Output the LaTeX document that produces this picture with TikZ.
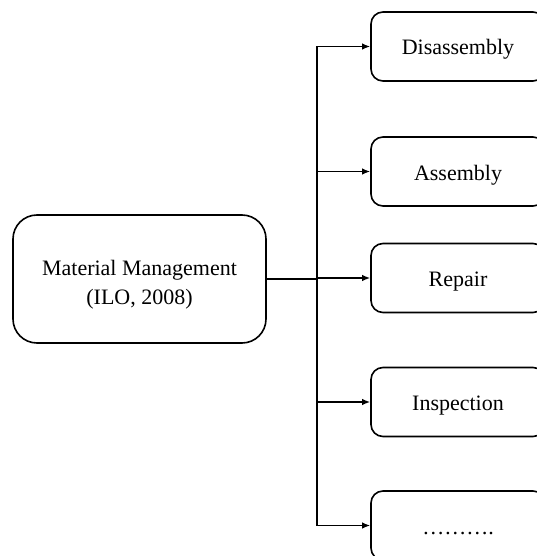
\documentclass[tikz,border=0pt]{standalone}
\usepackage{fontspec}
\setmainfont{Liberation Serif}
\usetikzlibrary{arrows.meta}
\begin{document}
\begin{tikzpicture}[x=1pt,y=-1pt,
  box/.style={draw,line width=1.6pt,rounded corners=12pt,
    minimum width=174pt,minimum height=69pt,inner sep=0pt,
    text height=17pt,text depth=0pt,
    font=\fontsize{22}{28}\selectfont},
  mainbox/.style={draw,line width=1.6pt,rounded corners=24pt,
    minimum width=253pt,minimum height=128pt,inner sep=0pt,align=center,
    text height=50pt,text depth=0pt,
    font=\fontsize{22}{29}\selectfont},
  link/.style={line width=1.5pt},
  arr/.style={line width=1.5pt,-{Latex[length=8pt,width=6.5pt]}}]
  \clip (0,0) rectangle (537,556);
  % source box
  \node[mainbox] (main) at (139.5,279) {Material Management\\(ILO, 2008)};
  % activity boxes
  \node[box] (dis) at (458,46.5) {Disassembly};
  \node[box] (asm) at (458,171.5) {Assembly};
  \node[box] (rep) at (458,278) {Repair};
  \node[box] (ins) at (458,402) {Inspection};
  \node[box] (etc) at (458,525.5) {……….};
  % vertical bus
  \coordinate (bus) at (317,0);
  \coordinate (bustop) at (bus |- dis.west);
  \coordinate (busbot) at (bus |- etc.west);
  \draw[link] (bustop) -- (busbot);
  \draw[line width=2.2pt] (main.east) -- (bus |- main.east);
  % branches
  \draw[arr] (bustop) -- (dis.west);
  \draw[arr] (bus |- asm.west) -- (asm.west);
  \draw[arr] (bus |- rep.west) -- (rep.west);
  \draw[arr] (bus |- ins.west) -- (ins.west);
  \draw[arr] (busbot) -- (etc.west);
\end{tikzpicture}
\end{document}
